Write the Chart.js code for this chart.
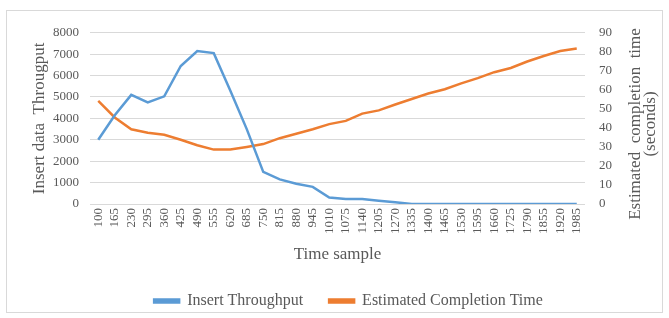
<!DOCTYPE html>
<html>
<head>
<meta charset="utf-8">
<script src="https://cdn.jsdelivr.net/npm/chart.js@4.4.1/dist/chart.umd.min.js"></script>
<style>
  html, body { margin: 0; padding: 0; background: #fff; }
  #frame { position: absolute; left: 6px; top: 10px; width: 655px; height: 301px; border: 1px solid #d9d9d9; }
  #c { display: block; }
</style>
</head>
<body>
<div id="frame"><canvas id="c" width="655" height="301"></canvas></div>
<script>
// time samples, step 65
const timeSamples = ['100','165','230','295','360','425','490','555','620','685','750','815','880','945','1010',
  '1075','1140','1205','1270','1335','1400','1465','1530','1595','1660','1725','1790','1855','1920','1985'];

const insertThroughput = [3000, 4150, 5100, 4750, 5030, 6450, 7150, 7050, 5300, 3500, 1500, 1150, 950, 800, 300,
  230, 230, 150, 80, 0, 0, 0, 0, 0, 0, 0, 0, 0, 0, 0];

const completionTime = [54.2, 45.5, 39.3, 37.5, 36.4, 33.8, 30.9, 28.6, 28.6, 30, 31.5, 34.6, 36.9, 39.3, 42,
  43.7, 47.5, 49.2, 52.3, 55.2, 58.1, 60.3, 63.4, 66.2, 69.3, 71.5, 74.9, 77.8, 80.4, 81.8];

const leftTicks = [0, 1000, 2000, 3000, 4000, 5000, 6000, 7000, 8000];
const rightTicks = [0, 10, 20, 30, 40, 50, 60, 70, 80, 90];
const rightTitle = ['Estimated  completion  time', '(seconds)'];

const serif = '"Liberation Serif", "Times New Roman", serif';
const grey = '#595959';

// right axis title reads bottom-to-top like the original, so draw it by hand.
// also pin the legend height and nudge it a bit.
const layoutTweaks = {
    id: 'layoutTweaks',
    afterInit(chart) {
        const legend = chart.legend;
        if (!legend) return;
        const origFit = legend.fit;
        legend.fit = function () {
            origFit.call(this);
            this.height = 47;
        };
    },
    afterLayout(chart) {
        const lg = chart.legend;
        if (lg) {
            lg.left += 14;
            lg.right += 14;
            lg.top += 2;
            lg.bottom += 2;
        }
    },
    afterDraw(chart) {
        const ctx = chart.ctx;
        ctx.save();
        ctx.fillStyle = grey;
        ctx.font = '17px ' + serif;
        ctx.textAlign = 'center';
        ctx.textBaseline = 'middle';
        const xs = [629, 644];
        rightTitle.forEach(function (line, i) {
            ctx.save();
            ctx.translate(xs[i], 113);
            ctx.rotate(-Math.PI / 2);
            ctx.fillText(line, 0, 0);
            ctx.restore();
        });
        ctx.restore();
    }
};

new Chart(document.getElementById('c'), {
    type: 'line',
    data: {
        labels: timeSamples,
        datasets: [
            {
                label: 'Insert Throughput',
                data: insertThroughput,
                borderColor: '#5b9bd5',
                backgroundColor: '#5b9bd5',
                borderWidth: 2.5,
                pointRadius: 0,
                tension: 0,
                yAxisID: 'y'
            },
            {
                label: 'Estimated Completion Time',
                data: completionTime,
                borderColor: '#ed7d31',
                backgroundColor: '#ed7d31',
                borderWidth: 2.5,
                pointRadius: 0,
                tension: 0,
                yAxisID: 'y1'
            }
        ]
    },
    options: {
        responsive: false,
        animation: false,
        layout: { padding: { top: 6, bottom: 0, left: 0, right: 0 } },
        plugins: {
            tooltip: { enabled: false },
            legend: {
                position: 'bottom',
                labels: {
                    color: grey,
                    font: { family: serif, size: 16 },
                    boxWidth: 25,
                    boxHeight: 3,
                    padding: 26
                }
            }
        },
        scales: {
            x: {
                offset: true,
                grid: { display: false, drawTicks: false },
                border: { display: false },
                ticks: {
                    autoSkip: false,
                    minRotation: 90,
                    maxRotation: 90,
                    color: grey,
                    padding: 4,
                    font: { family: serif, size: 13 }
                },
                title: {
                    display: true,
                    text: 'Time sample',
                    color: grey,
                    font: { family: serif, size: 17 },
                    padding: { top: 0, bottom: 0 }
                },
                afterFit: function (s) { s.height = 61; }
            },
            y: {
                position: 'left',
                min: 0,
                max: 8000,
                afterBuildTicks: function (s) { s.ticks = leftTicks.map(v => ({ value: v })); },
                grid: { color: '#d9d9d9', lineWidth: 1, drawTicks: false },
                border: { display: false },
                ticks: {
                    color: grey,
                    padding: 11,
                    font: { family: serif, size: 13 },
                    callback: function (v) { return String(v); }
                },
                title: {
                    display: true,
                    text: 'Insert data  Througput',
                    color: grey,
                    font: { family: serif, size: 17 },
                    padding: { top: 22, bottom: 0 }
                },
                afterFit: function (s) { s.width = 83; }
            },
            y1: {
                position: 'right',
                min: 0,
                max: 90,
                afterBuildTicks: function (s) { s.ticks = rightTicks.map(v => ({ value: v })); },
                grid: { display: false, drawTicks: false },
                border: { display: false },
                ticks: {
                    color: grey,
                    padding: 14,
                    font: { family: serif, size: 13 },
                    callback: function (v) { return String(v); }
                },
                afterFit: function (s) { s.width = 77; }
            }
        }
    },
    plugins: [layoutTweaks]
});
</script>
</body>
</html>
